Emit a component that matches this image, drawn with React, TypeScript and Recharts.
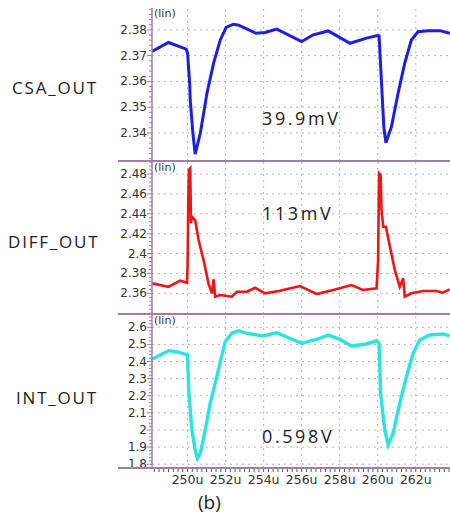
import React from "react"
import { LineChart, Line, XAxis, YAxis, ReferenceLine } from "recharts"

// time axis (u)
const timeDomain = [248.13, 263.8]
const timeTicks = [250, 252, 254, 256, 258, 260, 262]

// CSA_OUT
const csaTime = [248.13, 249.0, 249.93, 250.0, 250.11, 250.14, 250.28, 250.4, 250.67, 251.02, 251.37, 251.72, 252.03, 252.41, 252.68, 253.6, 254.08, 254.69, 256.0, 256.61, 257.4, 258.54, 259.41, 259.99, 260.07, 260.2, 260.32, 260.43, 260.72, 261.07, 261.42, 261.77, 262.12, 262.64, 263.26, 263.79]
const csaValues = [2.3716, 2.3751, 2.3725, 2.371, 2.3593, 2.3528, 2.3399, 2.3318, 2.3399, 2.3554, 2.3671, 2.3761, 2.381, 2.3822, 2.3818, 2.3787, 2.379, 2.3803, 2.3755, 2.3781, 2.3796, 2.3748, 2.3768, 2.3778, 2.3777, 2.3593, 2.3424, 2.3362, 2.3424, 2.3554, 2.3671, 2.3761, 2.3793, 2.3797, 2.3797, 2.3787]
const csaTicks = [2.34, 2.35, 2.36, 2.37, 2.38]
const csaDomain = [2.3291, 2.3885]

// DIFF_OUT
const diffTime = [248.13, 249.0, 249.62, 249.97, 250.0, 250.04, 250.07, 250.14, 250.18, 250.23, 250.4, 250.58, 250.84, 251.1, 251.28, 251.37, 251.45, 251.72, 252.33, 252.59, 253.12, 253.55, 254.08, 254.86, 255.91, 256.79, 257.66, 258.62, 259.23, 259.94, 260.02, 260.07, 260.15, 260.2, 260.29, 260.43, 260.64, 260.9, 261.16, 261.34, 261.42, 261.77, 262.38, 263.08, 263.43, 263.78]
const diffValues = [2.37, 2.3666, 2.3727, 2.3707, 2.3867, 2.4538, 2.484, 2.4857, 2.4304, 2.437, 2.4337, 2.4136, 2.3935, 2.37, 2.36, 2.3741, 2.3566, 2.3583, 2.3566, 2.3616, 2.3616, 2.3656, 2.36, 2.3626, 2.3673, 2.3593, 2.3633, 2.3683, 2.3633, 2.365, 2.3935, 2.4807, 2.479, 2.4438, 2.427, 2.427, 2.4069, 2.3834, 2.3666, 2.3751, 2.3566, 2.36, 2.3623, 2.3623, 2.3606, 2.364]
const diffTicks = [2.36, 2.38, 2.4, 2.42, 2.44, 2.46, 2.48]
const diffDomain = [2.3392, 2.4931]

// INT_OUT
const intTime = [248.13, 248.39, 249.0, 249.44, 250.0, 250.07, 250.23, 250.4, 250.52, 250.67, 250.93, 251.19, 251.54, 251.98, 252.33, 252.68, 253.12, 253.99, 254.69, 256.0, 256.79, 257.4, 258.01, 258.62, 259.41, 259.94, 260.07, 260.15, 260.37, 260.55, 260.81, 261.16, 261.51, 261.86, 262.21, 262.73, 263.43, 263.78]
const intValues = [2.4131, 2.4283, 2.4634, 2.4575, 2.4382, 2.2146, 2.0003, 1.8835, 1.835, 1.8642, 2.0003, 2.1562, 2.3115, 2.5159, 2.565, 2.5801, 2.565, 2.5492, 2.5686, 2.5066, 2.5299, 2.555, 2.5299, 2.4908, 2.5025, 2.5218, 2.5066, 2.2146, 2.0003, 1.9127, 1.981, 2.1562, 2.3115, 2.4482, 2.5258, 2.555, 2.5609, 2.5492]
const intTicks = [1.8, 1.9, 2, 2.1, 2.2, 2.3, 2.4, 2.5, 2.6]
const intDomain = [1.778, 2.6777]

const AXIS = "#a27fa2"
const GRID = "#b4b4b4"
const FONT = "DejaVu Sans"

const toRows = (t: number[], v: number[]) => t.map((x, i) => ({ t: x, v: v[i] }))

// minor tick positions for axes
const minorTicks = (from: number, to: number, step: number) => {
  const out: number[] = []
  for (let k = 0; from + k * step <= to + 1e-9; k++) out.push(Number((from + k * step).toFixed(4)))
  return out
}

const YTick = ({ x, y, payload, majors }: any) => {
  const v = payload.value
  const major = majors.find((m: number) => Math.abs(m - v) < 1e-6)
  const isMajor = major !== undefined
  return (
    <g>
      <line x1={x - (isMajor ? 5 : 3)} x2={x} y1={y} y2={y} stroke={AXIS} strokeWidth={1} />
      {isMajor && (
        <text x={x - 5} y={y} dy={4} textAnchor="end" fontFamily={FONT} fontSize={12} fill="#333">
          {String(major)}
        </text>
      )}
    </g>
  )
}

const XTick = ({ x, y, payload }: any) => {
  const v = payload.value
  const major = timeTicks.find((m) => Math.abs(m - v) < 1e-6)
  return (
    <g>
      <line x1={x} x2={x} y1={y} y2={y + 4} stroke="#555" strokeWidth={1} />
      {major !== undefined && (
        <text x={x} y={y + 16} textAnchor="middle" fontFamily={FONT} fontSize={12.5} fill="#333">
          {`${major}u`}
        </text>
      )}
    </g>
  )
}

interface PanelProps {
  rows: { t: number; v: number }[]
  domain: number[]
  majors: number[]
  minorStep: number
  color: string
  strokeWidth: number
  top: number
  height: number
  showX?: boolean
}

function Panel({ rows, domain, majors, minorStep, color, strokeWidth, top, height, showX }: PanelProps) {
  const yMinor = minorTicks(Math.ceil(domain[0] / minorStep) * minorStep, domain[1], minorStep)
  const xMinor = minorTicks(248.25, 263.75, 0.25)
  return (
    <div style={{ position: "absolute", left: 0, top }}>
      <LineChart width={450} height={height + (showX ? 30 : 0)} data={rows} margin={{ top: 0, right: 0, bottom: 0, left: 0 }}>
        <XAxis
          dataKey="t"
          type="number"
          domain={timeDomain}
          allowDataOverflow
          hide={!showX}
          height={30}
          ticks={xMinor}
          interval={0}
          tickSize={0}
          tickMargin={0}
          tickLine={false}
          axisLine={false}
          tick={<XTick />}
        />
        <YAxis
          type="number"
          domain={domain}
          allowDataOverflow
          width={152}
          ticks={yMinor}
          interval={0}
          tickSize={0}
          tickMargin={0}
          tickLine={false}
          axisLine={{ stroke: AXIS, strokeWidth: 1.5 }}
          tick={<YTick majors={majors} />}
        />
        {majors.map((m) => (
          <ReferenceLine key={"y" + m} y={m} stroke={GRID} strokeDasharray="2 4" />
        ))}
        {timeTicks.map((m) => (
          <ReferenceLine key={"x" + m} x={m} stroke={GRID} strokeDasharray="2 4" />
        ))}
        <Line type="linear" dataKey="v" stroke={color} strokeWidth={strokeWidth} dot={false} isAnimationActive={false} />
      </LineChart>
    </div>
  )
}

const sideLabel = (text: string, top: number, left: number) => (
  <div
    style={{ position: "absolute", left, top, fontFamily: "Open Sans", fontSize: 17, letterSpacing: 1.8, color: "#222", lineHeight: "20px" }}
  >
    {text}
  </div>
)

const note = (text: string, top: number) => (
  <div
    style={{ position: "absolute", left: 262, top, fontFamily: "Open Sans", fontSize: 18, letterSpacing: 2.6, color: "#222", lineHeight: "22px" }}
  >
    {text}
  </div>
)

const lin = (top: number) => (
  <div style={{ position: "absolute", left: 154, top, fontFamily: FONT, fontSize: 11, color: "#333", lineHeight: "12px" }}>(lin)</div>
)

const sep = (top: number) => (
  <div style={{ position: "absolute", left: 118, top, width: 332, height: 2, background: AXIS }} />
)

export default function App() {
  return (
    <div style={{ position: "absolute", left: 0, top: 0, width: 450, height: 519, background: "#fff", overflow: "hidden" }}>
      <Panel rows={toRows(csaTime, csaValues)} domain={csaDomain} majors={csaTicks} minorStep={0.002} color="#1c1ee0" strokeWidth={3} top={8} height={153} />
      <Panel rows={toRows(diffTime, diffValues)} domain={diffDomain} majors={diffTicks} minorStep={0.004} color="#ee1515" strokeWidth={2.6} top={161} height={153} />
      <Panel rows={toRows(intTime, intValues)} domain={intDomain} majors={intTicks} minorStep={0.02} color="#2be3e3" strokeWidth={3.4} top={314} height={154} showX />
      {sep(160)}
      {sep(313)}
      {sep(467)}
      {lin(8)}
      {lin(162)}
      {lin(315)}
      {sideLabel("CSA_OUT", 78, 12)}
      {sideLabel("DIFF_OUT", 232, 8)}
      {sideLabel("INT_OUT", 388, 16)}
      {note("39.9mV", 107)}
      {note("113mV", 202)}
      {note("0.598V", 425)}
      <div style={{ position: "absolute", left: 198, top: 490, fontFamily: "Open Sans", fontSize: 19, color: "#222", lineHeight: "24px" }}>(b)</div>
    </div>
  )
}
